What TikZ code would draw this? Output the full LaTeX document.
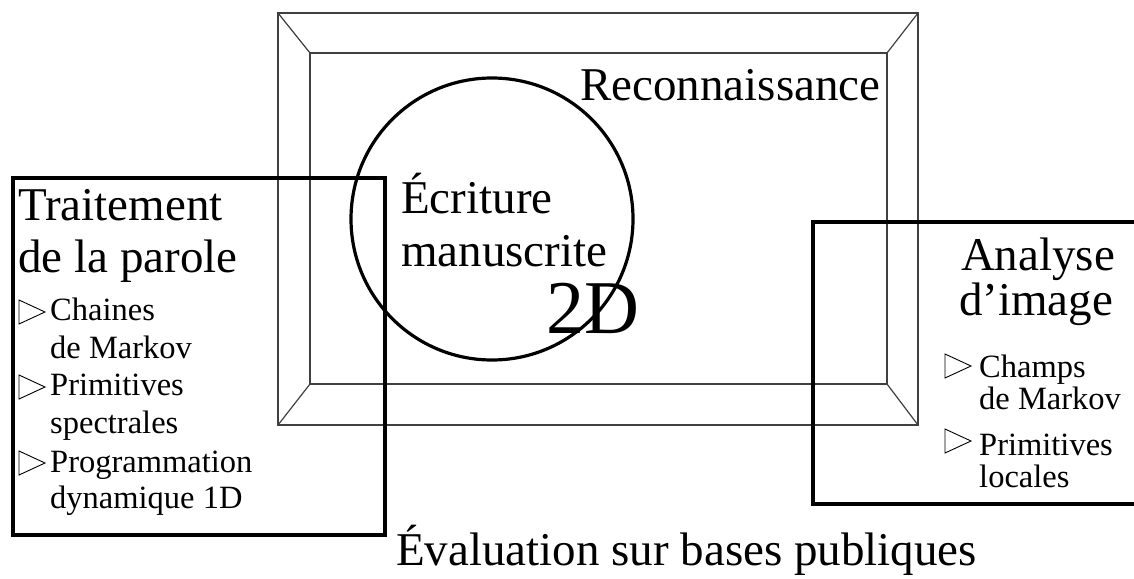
\documentclass[tikz,border=0pt]{standalone}
\usepackage{fontspec}
\setmainfont{Liberation Serif}
\begin{document}
\begin{tikzpicture}[x=1pt,y=-1pt,
  framel/.style={draw=black!75,line width=1.2pt},
  thick box/.style={draw=black,line width=3.5pt},
  big/.style={inner sep=0pt,anchor=base west,font=\fontsize{47}{53}\selectfont},
  small/.style={inner sep=0pt,anchor=base west,font=\fontsize{32.5}{37}\selectfont},
  huge/.style={inner sep=0pt,anchor=base west,font=\fontsize{76}{80}\selectfont},
  tri/.pic={\draw[line width=0.9pt,line join=miter] (0,0) -- (0,-24) -- (26,-12) -- cycle;}]
\useasboundingbox (0,0) rectangle (1134,578);
% frame
\coordinate (o1) at (278,13); \coordinate (o2) at (918,13);
\coordinate (o3) at (918,425); \coordinate (o4) at (278,425);
\coordinate (i1) at (310,53); \coordinate (i2) at (887,53);
\coordinate (i3) at (887,384); \coordinate (i4) at (310,384);
\draw[framel] (o1) -- (o2) -- (o3) -- (o4) -- cycle;
\draw[framel] (i1) -- (i2) -- (i3) -- (i4) -- cycle;
\draw[framel] (o1) -- (i1) (o2) -- (i2) (o3) -- (i3) (o4) -- (i4);
\node[big] (reco) at (580,100) {Reconnaissance};
% circle
\node[draw=black,line width=3.2pt,circle,minimum size=282pt,inner sep=0pt] (circ) at (492,219) {};
\node[big] (ecr1) at (401,213) {Écriture};
\node[big] (ecr2) at (401,266) {manuscrite};
\node[huge] (twod) at (546,333) {2D};
% left box
\node[thick box,minimum width=372pt,minimum height=357pt,inner sep=0pt,anchor=north west] (lbox) at (11,176) {};
\node[big] (tr1) at (18,220) {Traitement};
\node[big] (tr2) at (18,272) {de la parole};
\pic at (19,324) {tri};
\node[small] (la1) at (50,320) {Chaines};
\node[small] (la2) at (50,358) {de Markov};
\pic at (19,399) {tri};
\node[small] (lp1) at (50,395) {Primitives};
\node[small] (lp2) at (50,433) {spectrales};
\pic at (19,475) {tri};
\node[small] (lg1) at (50,472) {Programmation};
\node[small] (lg2) at (50,508) {dynamique 1D};
% right box
\node[thick box,minimum width=340pt,minimum height=282pt,inner sep=0pt,anchor=north west] (rbox) at (811,220) {};
\node[big,anchor=base] (an1) at (1038,270) {Analyse};
\node[big,anchor=base] (an2) at (1036,315) {d’image};
\pic at (945,378) {tri};
\node[small] (rc1) at (979,377) {Champs};
\node[small] (rc2) at (979,409) {de Markov};
\pic at (945,453) {tri};
\node[small] (rp1) at (979,455) {Primitives};
\node[small] (rp2) at (979,487) {locales};
% bottom
\node[big] (eval) at (396,565) {Évaluation sur bases publiques};
\end{tikzpicture}
\end{document}
